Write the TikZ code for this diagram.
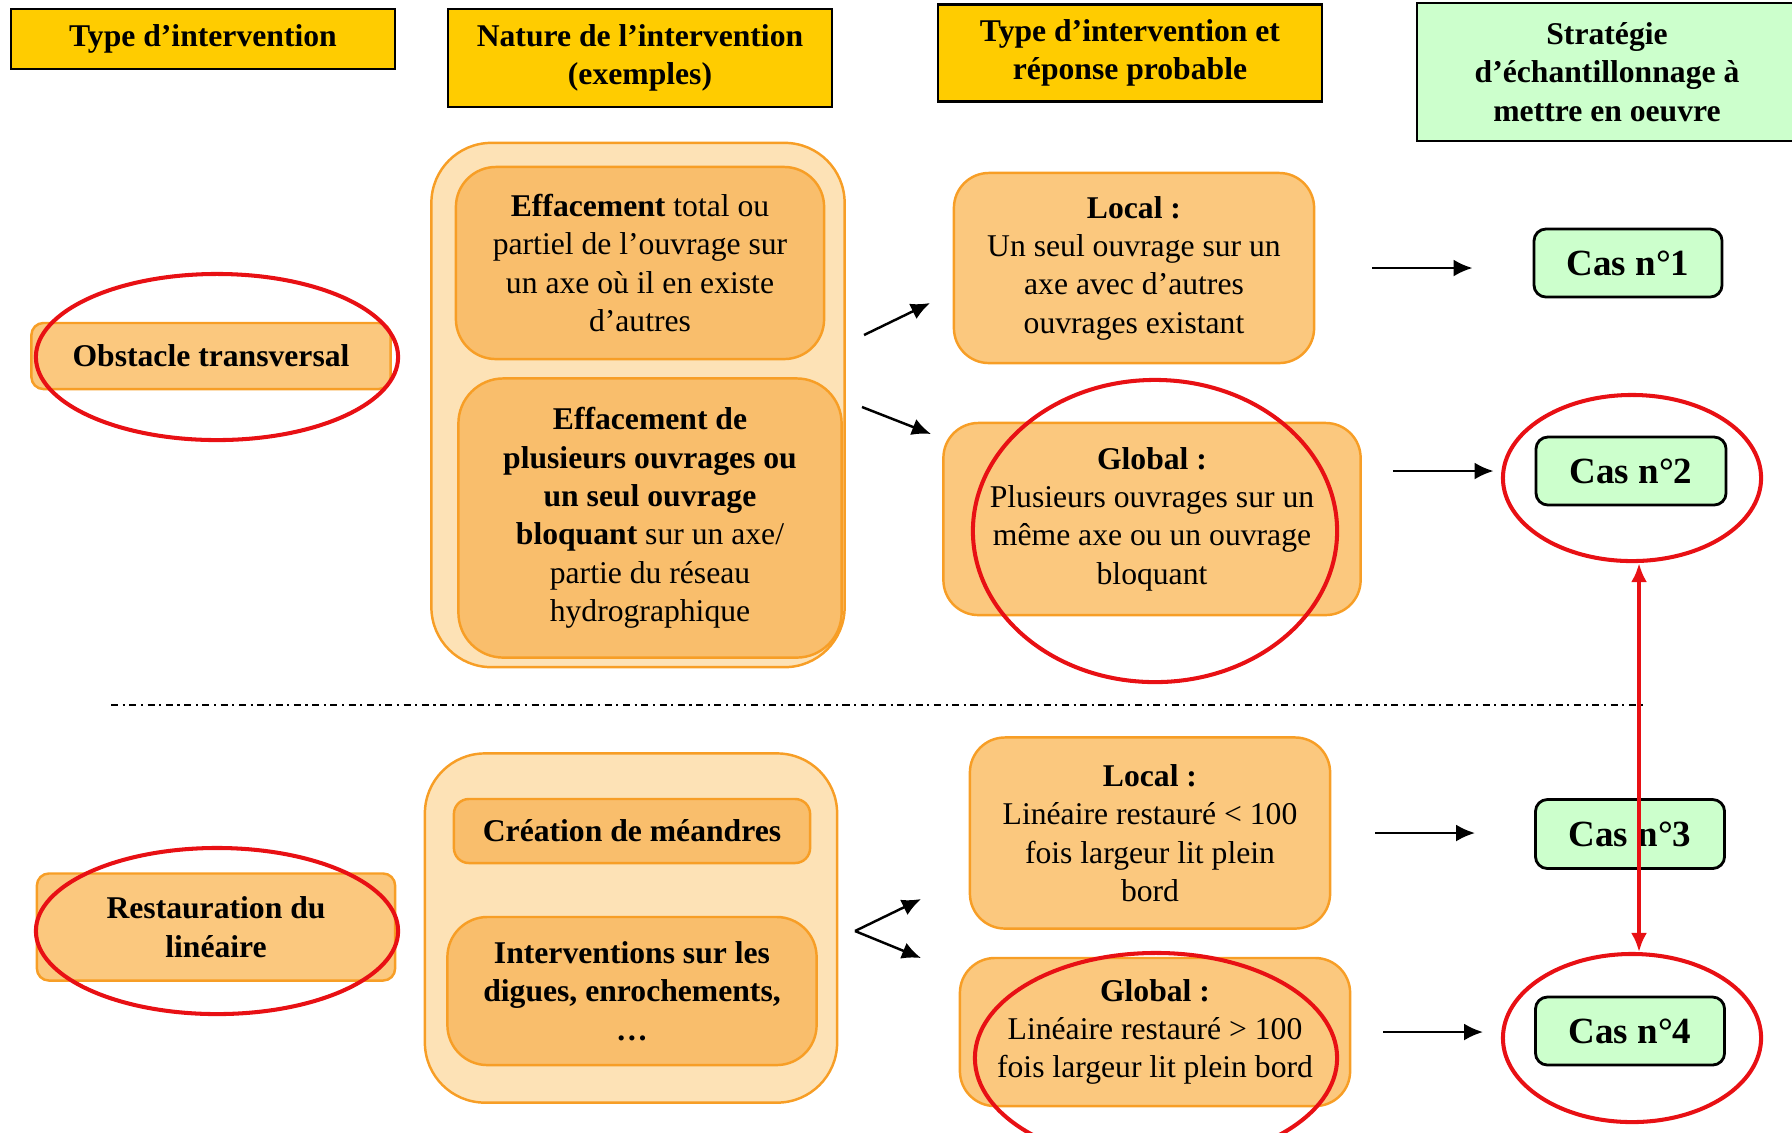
\documentclass[tikz,border=0pt]{standalone}
\usepackage{fontspec}
\setmainfont{Liberation Serif}
\usetikzlibrary{arrows.meta,shapes.geometric}

\definecolor{headyellow}{RGB}{255,204,0}
\definecolor{casgreen}{RGB}{204,255,204}
\definecolor{boxline}{RGB}{247,158,38}
\definecolor{boxfill}{RGB}{251,200,126}
\definecolor{innerfill}{RGB}{249,190,108}
\definecolor{outerfill}{RGB}{253,226,182}
\definecolor{ringred}{RGB}{232,16,20}

\tikzset{
  txt/.style={font=\fontsize{9}{10.9}\selectfont, align=center, inner sep=0pt},
  headbox/.style={txt, font=\fontsize{9}{10.9}\selectfont\bfseries, draw=black, line width=0.6pt, fill=headyellow},
  casbox/.style={txt, font=\fontsize{10.5}{12}\selectfont\bfseries, draw=black, line width=0.8pt, rounded corners=1.2mm, fill=casgreen},
  orbox/.style={txt, draw=boxline, line width=0.7pt, fill=boxfill, rounded corners=3.5mm},
  ring/.style={ellipse, draw=ringred, line width=1.15pt, inner sep=0pt},
  arr/.style={-{Latex[length=1.9mm,width=1.7mm]}, line width=0.7pt},
  redarr/.style={{Latex[length=1.9mm,width=1.6mm]}-{Latex[length=1.9mm,width=1.6mm]}, draw=ringred, line width=1.15pt}
}

\begin{document}
\begin{tikzpicture}[x=0.01cm, y=-0.01cm]
			\useasboundingbox (0, 0) rectangle (1792, 1132);
			
			%%%%% HEADERS %%%%%
			\node[headbox, minimum width=3.84cm, minimum height=0.60cm] (hType) at (203, 39) {Type d’intervention};
			\node[headbox, minimum width=3.83cm, minimum height=0.98cm] (hNature) at (640, 58) {Nature de l’intervention\\(exemples)};
			\node[headbox, minimum width=3.83cm, minimum height=0.97cm] (hReponse) at (1130, 53) {Type d’intervention et\\réponse probable};
			\node[headbox, fill=casgreen, minimum width=3.80cm, minimum height=1.38cm] (hStrategie) at (1607, 72) {Stratégie\\d’échantillonnage à\\mettre en oeuvre};
			
			%%%%% TYPE %%%%%
			\node[orbox, font=\fontsize{9}{10.9}\selectfont\bfseries, rounded corners=1.2mm, minimum width=3.59cm, minimum height=0.66cm] (obstacle) at (211, 356) {Obstacle transversal};
			\node[orbox, font=\fontsize{9}{10.9}\selectfont\bfseries, rounded corners=1.2mm, minimum width=3.58cm, minimum height=1.07cm] (restauration) at (216, 927) {Restauration du\\linéaire};
			
			%%%%% NATURE %%%%%
			\node[orbox, fill=outerfill, rounded corners=6mm, minimum width=4.13cm, minimum height=5.24cm] (outerA) at (638, 405) {};
			\node[orbox, fill=innerfill, rounded corners=4mm, minimum width=3.68cm, minimum height=1.92cm] (effTotal) at (640, 263) {\textbf{Effacement} total ou\\partiel de l’ouvrage sur\\un axe où il en existe\\d’autres};
			\node[orbox, fill=innerfill, rounded corners=4.5mm, minimum width=3.83cm, minimum height=2.79cm] (effPlus) at (650, 518) {\textbf{Effacement de}\\\textbf{plusieurs ouvrages ou}\\\textbf{un seul ouvrage}\\\textbf{bloquant} sur un axe/\\partie du réseau\\hydrographique};
			
			\node[orbox, fill=outerfill, rounded corners=6mm, minimum width=4.12cm, minimum height=3.49cm] (outerB) at (631, 928) {};
			\node[orbox, fill=innerfill, font=\fontsize{9}{10.9}\selectfont\bfseries, rounded corners=1.5mm, minimum width=3.56cm, minimum height=0.64cm] (meandres) at (632, 831) {Création de méandres};
			\node[orbox, fill=innerfill, font=\fontsize{9}{10.9}\selectfont\bfseries, rounded corners=4mm, minimum width=3.69cm, minimum height=1.48cm] (digues) at (632, 991) {Interventions sur les\\digues, enrochements,\\…};
			
			%%%%% REPONSE %%%%%
			\node[orbox, minimum width=3.60cm, minimum height=1.90cm] (local1) at (1134, 268) {\textbf{Local :}\\Un seul ouvrage sur un\\axe avec d’autres\\ouvrages existant};
			\node[orbox, minimum width=4.17cm, minimum height=1.92cm] (global1) at (1152, 519) {\textbf{Global :}\\Plusieurs ouvrages sur un\\même axe ou un ouvrage\\bloquant};
			\node[orbox, minimum width=3.60cm, minimum height=1.91cm] (local2) at (1150, 833) {\textbf{Local :}\\Linéaire restauré < 100\\fois largeur lit plein\\bord};
			\node[orbox, minimum width=3.90cm, minimum height=1.48cm] (global2) at (1155, 1032) {\textbf{Global :}\\Linéaire restauré > 100\\fois largeur lit plein bord};
			
			%%%%% CAS %%%%%
			\node[casbox, minimum width=1.88cm, minimum height=0.68cm] (cas1) at (1628, 263) {Cas n°1};
			\node[casbox, minimum width=1.90cm, minimum height=0.68cm] (cas2) at (1631, 471) {Cas n°2};
			\node[casbox, minimum width=1.89cm, minimum height=0.69cm] (cas3) at (1630, 834) {Cas n°3};
			\node[casbox, minimum width=1.89cm, minimum height=0.68cm] (cas4) at (1630, 1031) {Cas n°4};
			
			%%%%% SEPARATOR %%%%%
			\draw[line width=0.6pt, dash pattern=on 2pt off 1.3pt on 0.6pt off 1.3pt] (111, 705) -- (1646, 705);
			
			%%%%% RINGS %%%%%
			\node[ring, minimum width=3.62cm, minimum height=1.66cm] (ringObstacle) at (217, 357) {};
			\node[ring, minimum width=3.62cm, minimum height=1.66cm] (ringRestauration) at (217, 931) {};
			\node[ring, minimum width=3.64cm, minimum height=3.02cm] (ringGlobal1) at (1155, 531) {};
			\node[ring, minimum width=3.62cm, minimum height=2.10cm] (ringGlobal2) at (1156, 1058) {};
			\node[ring, minimum width=2.58cm, minimum height=1.66cm] (ringCas2) at (1632, 478) {};
			\node[ring, minimum width=2.58cm, minimum height=1.68cm] (ringCas4) at (1632, 1038) {};
			
			%%%%% ARROWS %%%%%
			\coordinate (tailA1) at (864, 335);
			\coordinate (headA1) at (930, 303);
			\coordinate (tailA2) at (862, 407);
			\coordinate (headA2) at (931, 434);
			\coordinate (forkB) at (855, 931);
			\coordinate (headB1) at (921, 899);
			\coordinate (headB2) at (921, 958);
			
			\draw[arr] (tailA1) -- (headA1);
			\draw[arr] (tailA2) -- (headA2);
			\draw[arr] (forkB) -- (headB1);
			\draw[arr] (forkB) -- (headB2);
			
			\draw[arr, shorten <=0.57cm, shorten >=0.60cm] (local1.east) -- (local1.east -| cas1.west);
			\draw[arr, shorten <=0.31cm, shorten >=0.41cm] (global1.east |- cas2.west) -- (cas2.west);
			\draw[arr, shorten <=0.44cm, shorten >=0.59cm] (local2.east) -- (local2.east -| cas3.west);
			\draw[arr, shorten <=0.32cm, shorten >=0.51cm] (global2.east) -- (global2.east -| cas4.west);
			
			\draw[redarr] ([xshift=0.07cm]ringCas2.south) -- ([xshift=0.07cm]ringCas4.north);
			
		\end{tikzpicture}
\end{document}
